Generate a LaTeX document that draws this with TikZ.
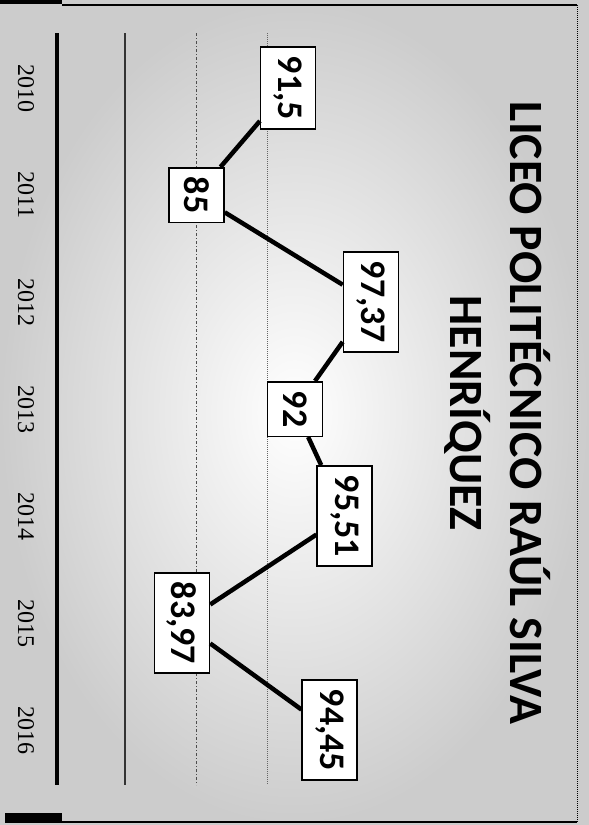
\documentclass[tikz,border=0pt]{standalone}
\usepackage{fontspec}
\setmainfont{Carlito}
\newfontfamily\yearfont{Liberation Serif}

\tikzset{
  valbox/.style={draw=black, line width=1.5pt, fill=white, rotate=-90,
    font=\bfseries\fontsize{36}{40}\selectfont, inner xsep=9pt, inner ysep=0pt, minimum height=55pt},
  yearlbl/.style={rotate=-90, font=\yearfont\fontsize{24}{28}\selectfont},
  trend/.style={line width=4.5pt, black},
}

\begin{document}
\begin{tikzpicture}[x=1pt, y=-1pt]
        \useasboundingbox (0,0) rectangle (589,825);
        \shade[inner color=white, outer color=black!20] (0,0) rectangle (589,825);
        \fill[black] (0,0) rectangle (62,4);
        \fill[black] (5,813) rectangle (62,823);
        \draw[line width=1.5pt] (62,5) -- (577,5);
        \draw[line width=1.5pt] (62,822) -- (577,822);
        \draw[line width=1pt, densely dotted] (577,5) -- (577,822);
        % grid
        \draw[line width=4pt] (57,33) -- (57,785);
        \draw[line width=1.5pt, black!80] (125,33) -- (125,785);
        \draw[line width=1pt, black!70, dash dot] (196,33) -- (196,785);
        \draw[line width=1pt, black!60, densely dotted] (267,33) -- (267,785);
        % years
        \node[yearlbl] (y2010) at (26,88) {2010};
        \node[yearlbl] (y2011) at (26,195) {2011};
        \node[yearlbl] (y2012) at (26,302) {2012};
        \node[yearlbl] (y2013) at (26,409) {2013};
        \node[yearlbl] (y2014) at (26,516) {2014};
        \node[yearlbl] (y2015) at (26,623) {2015};
        \node[yearlbl] (y2016) at (26,730) {2016};
        % values
        \node[valbox] (v2010) at ({55.5+14.1*(91.5-75)},88) {91,5};
        \node[valbox] (v2011) at ({55.5+14.1*(85-75)},195) {85};
        \node[valbox] (v2012) at ({55.5+14.1*(97.37-75)},302) {97,37};
        \node[valbox] (v2013) at ({55.5+14.1*(92-75)},409) {92};
        \node[valbox] (v2014) at ({55.5+14.1*(95.51-75)},516) {95,51};
        \node[valbox] (v2015) at ({55.5+14.1*(83.97-75)},623) {83,97};
        \node[valbox] (v2016) at ({55.5+14.1*(94.45-75)},730) {94,45};
        \draw[trend] (v2010) -- (v2011) -- (v2012) -- (v2013) -- (v2014) -- (v2015) -- (v2016);
        % title
        \node[rotate=-90, align=center, font=\bfseries\fontsize{47.8}{60}\selectfont] (title) at (498,413) {LICEO POLITÉCNICO RAÚL SILVA\\HENRÍQUEZ};
    \end{tikzpicture}
\end{document}
